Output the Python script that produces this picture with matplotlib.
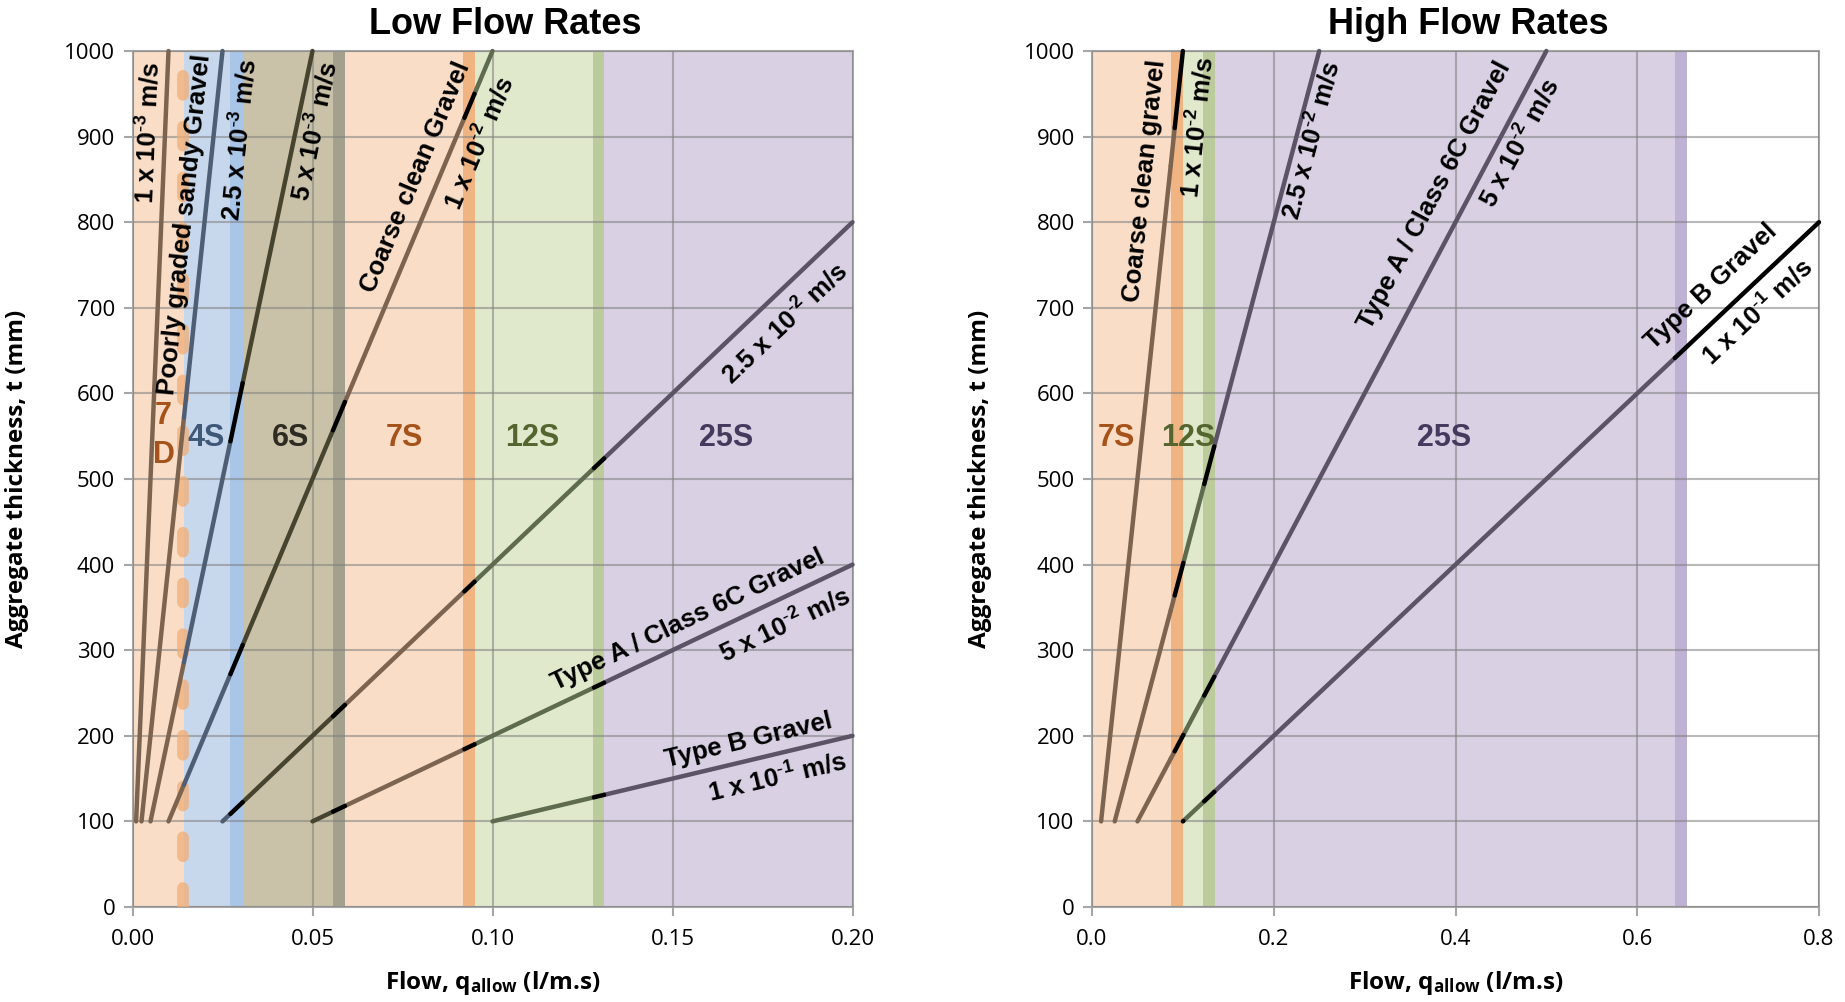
import numpy as np
import matplotlib.pyplot as plt
from matplotlib.ticker import FormatStrFormatter

plt.rcParams['mathtext.default'] = 'regular'

# ---------------- Low flow rates (left panel) ----------------
low_q_start = [0.001, 0.0025, 0.005, 0.01, 0.025, 0.05, 0.1]
low_t_start = [100, 100, 100, 100, 100, 100, 100]
low_q_end = [0.01, 0.025, 0.05, 0.1, 0.2, 0.2, 0.2]
low_t_end = [1000, 1000, 1000, 1000, 800, 400, 200]

low_zone_names = ['7D', '4S', '6S', '7S', '12S', '25S']
low_zone_lo = [0.0, 0.0143, 0.0306, 0.0590, 0.0951, 0.1311]
low_zone_hi = [0.0143, 0.0272, 0.0557, 0.0919, 0.1278, 0.2]
low_band_zone = ['4S', '6S', '7S', '12S']
low_band_lo = [0.0272, 0.0557, 0.0919, 0.1278]
low_band_hi = [0.0306, 0.0590, 0.0951, 0.1311]
low_black_lo = [0.0272, 0.0557, 0.0922, 0.1282]
low_black_hi = [0.0306, 0.0590, 0.0950, 0.1310]
low_dash_q = 0.0141

low_labels = ['1 x 10$^{\\text{-}3}$ m/s', 'Poorly graded sandy Gravel', '2.5 x 10$^{\\text{-}3}$ m/s',
              '5 x 10$^{\\text{-}3}$ m/s', 'Coarse clean Gravel', '1 x 10$^{\\text{-}2}$ m/s',
              '2.5 x 10$^{\\text{-}2}$ m/s', 'Type A / Class 6C Gravel', '5 x 10$^{\\text{-}2}$ m/s',
              'Type B Gravel', '1 x 10$^{\\text{-}1}$ m/s']
low_label_line = [0, 1, 1, 2, 3, 3, 4, 5, 5, 6, 6]
low_label_q = [0.0044, 0.0146, 0.0299, 0.0507, 0.0785, 0.0965, 0.1812, 0.1544, 0.1812, 0.171, 0.179]
low_label_t = [904, 797, 896, 906, 853, 892, 682, 335, 329, 194, 151]
low_zone_label_q = [0.0086, 0.0205, 0.0440, 0.0754, 0.1110, 0.1650]

# ---------------- High flow rates (right panel) ----------------
high_q_start = [0.01, 0.025, 0.05, 0.1]
high_t_start = [100, 100, 100, 100]
high_q_end = [0.1, 0.25, 0.5, 0.8]
high_t_end = [1000, 1000, 1000, 800]

high_zone_names = ['7S', '12S', '25S']
high_zone_lo = [0.0, 0.1005, 0.1353]
high_zone_hi = [0.0866, 0.1225, 0.6414]
high_band_zone = ['7S', '12S', '25S']
high_band_lo = [0.0866, 0.1225, 0.6414]
high_band_hi = [0.1005, 0.1353, 0.6549]
high_black_lo = [0.0910, 0.1235, 0.6414]
high_black_hi = [0.1005, 0.1345, 10.0]

high_labels = ['Coarse clean gravel', '1 x 10$^{\\text{-}2}$ m/s', '2.5 x 10$^{\\text{-}2}$ m/s',
               'Type A / Class 6C Gravel', '5 x 10$^{\\text{-}2}$ m/s',
               'Type B Gravel', '1 x 10$^{\\text{-}1}$ m/s']
high_label_line = [0, 0, 1, 2, 2, 3, 3]
high_label_q = [0.0583, 0.117, 0.2417, 0.377, 0.4708, 0.6817, 0.733]
high_label_t = [849, 911, 896, 832, 892, 725, 695]
high_zone_label_q = [0.0272, 0.106, 0.388]

zone_label_t = 548

# zone styling: fill, band, line colour, text colour
fill_col = {'7D': '#f9ddc6', '4S': '#c8d8ec', '6S': '#c9c2a8', '7S': '#f9ddc6',
            '12S': '#e0e9cc', '25S': '#d9d0e3'}
band_col = {'4S': '#a9c5e8', '6S': '#a3a08e', '7S': '#f0b482', '12S': '#bccb9c',
            '25S': '#bfb1d4'}
line_col = {'7D': '#7d6450', '4S': '#4e5e74', '6S': '#46442f', '7S': '#7d6450',
            '12S': '#5e6b4f', '25S': '#5c5367'}
text_col = {'7D': '#a5531a', '4S': '#3f5878', '6S': '#2d2b22', '7S': '#a5531a',
            '12S': '#55652f', '25S': '#46395e'}

LBL_FONT = 'Liberation Sans'
AX_FONT = 'Open Sans'

fig = plt.figure(figsize=(18.45, 10.02), dpi=100)
ax1 = fig.add_axes([132.5 / 1845, 95 / 1002, 720 / 1845, 856 / 1002])
ax2 = fig.add_axes([1092 / 1845, 95 / 1002, 727 / 1845, 856 / 1002])


def setup(ax, xmax, xstep, fmt, title, ylab_x):
    ax.set_xlim(0, xmax)
    ax.set_ylim(0, 1000)
    ax.set_xticks(np.arange(0, xmax + xstep / 2, xstep))
    ax.set_yticks(np.arange(0, 1001, 100))
    ax.xaxis.set_major_formatter(FormatStrFormatter(fmt))
    ax.grid(True, color='#7f7f7f', alpha=0.55, lw=1.5)
    ax.set_axisbelow(False)
    for s in ax.spines.values():
        s.set_color('#a6a6a6')
        s.set_linewidth(1.5)
    ax.tick_params(direction='out', length=6.5, width=1.5, color='#a6a6a6',
                   labelsize=16, pad=6)
    ax.tick_params(axis='x', pad=9)
    for lab in ax.get_xticklabels() + ax.get_yticklabels():
        lab.set_family(AX_FONT)
    ax.set_xlabel('Flow, q$_{allow}$ (l/m.s)', fontsize=17.5, fontweight='bold', family=AX_FONT)
    ax.set_ylabel('Aggregate thickness, t (mm)', fontsize=17.5, fontweight='bold', family=AX_FONT)
    ax.xaxis.set_label_coords(0.5, -0.072)
    ax.yaxis.set_label_coords(ylab_x, 0.5)
    ax.set_title(title, fontsize=26, fontweight='bold', family=LBL_FONT, x=0.518, pad=12)


def shade(ax, names, lo, hi, bnames, blo, bhi):
    for n, a, b in zip(names, lo, hi):
        ax.axvspan(a, b, color=fill_col[n], lw=0, zorder=0)
    for n, a, b in zip(bnames, blo, bhi):
        ax.axvspan(a, b, color=band_col[n], lw=0, zorder=0)


def colour_at(q, names, lo, hi, blo, bhi):
    for a, b in zip(blo, bhi):
        if a <= q <= b:
            return 'black'
    c = 'black'
    for n, a in zip(names, lo):
        if q >= a:
            c = line_col[n]
    return c


def draw_lines(ax, qs, ts, qe, te, names, lo, hi, blo, bhi):
    cuts = sorted(set(lo + hi + blo + bhi))
    for q0, t0, q1, t1 in zip(qs, ts, qe, te):
        pts = [q0] + [c for c in cuts if q0 < c < q1] + [q1]
        for qa, qb in zip(pts[:-1], pts[1:]):
            ta = t0 + (t1 - t0) * (qa - q0) / (q1 - q0)
            tb = t0 + (t1 - t0) * (qb - q0) / (q1 - q0)
            c = colour_at((qa + qb) / 2, names, lo, hi, blo, bhi)
            ax.plot([qa, qb], [ta, tb], color=c, lw=3.2, solid_capstyle='round',
                    zorder=5 if c == 'black' else 4, clip_on=False)


def line_labels(ax, labels, idx, lq, lt, qs, ts, qe, te):
    for s, i, q, t in zip(labels, idx, lq, lt):
        p0 = ax.transData.transform((qs[i], ts[i]))
        p1 = ax.transData.transform((qe[i], te[i]))
        ang = np.degrees(np.arctan2(p1[1] - p0[1], p1[0] - p0[0]))
        ax.text(q, t, s, rotation=ang, rotation_mode='anchor', ha='center', va='center',
                fontsize=18.5, fontweight='bold', family=LBL_FONT, color='black', zorder=6)


ZFS = 22

# ---- left panel ----
setup(ax1, 0.2, 0.05, '%.2f', 'Low Flow Rates', -0.1437)
shade(ax1, low_zone_names, low_zone_lo, low_zone_hi, low_band_zone, low_band_lo, low_band_hi)
ax1.plot([low_dash_q, low_dash_q], [0, 1000], color='#f0ae76', alpha=0.75, lw=8.5,
         dashes=(1.6, 2.7), dash_capstyle='round', zorder=3)
draw_lines(ax1, low_q_start, low_t_start, low_q_end, low_t_end,
           low_zone_names, low_zone_lo, low_zone_hi, low_black_lo, low_black_hi)
line_labels(ax1, low_labels, low_label_line, low_label_q, low_label_t,
            low_q_start, low_t_start, low_q_end, low_t_end)
for n, q in zip(low_zone_names, low_zone_label_q):
    if n == '7D':
        ax1.text(q, zone_label_t + 26, '7', ha='center', va='center', fontsize=ZFS,
                 fontweight='bold', family=LBL_FONT, color=text_col[n], zorder=6)
        ax1.text(q, zone_label_t - 20, 'D', ha='center', va='center', fontsize=ZFS,
                 fontweight='bold', family=LBL_FONT, color=text_col[n], zorder=6)
    else:
        ax1.text(q, zone_label_t, n, ha='center', va='center', fontsize=ZFS,
                 fontweight='bold', family=LBL_FONT, color=text_col[n], zorder=6)

# ---- right panel ----
setup(ax2, 0.8, 0.2, '%.1f', 'High Flow Rates', -0.1376)
shade(ax2, high_zone_names, high_zone_lo, high_zone_hi, high_band_zone, high_band_lo, high_band_hi)
draw_lines(ax2, high_q_start, high_t_start, high_q_end, high_t_end,
           high_zone_names, high_zone_lo, high_zone_hi, high_black_lo, high_black_hi)
line_labels(ax2, high_labels, high_label_line, high_label_q, high_label_t,
            high_q_start, high_t_start, high_q_end, high_t_end)
for n, q in zip(high_zone_names, high_zone_label_q):
    ax2.text(q, zone_label_t, n, ha='center', va='center', fontsize=ZFS,
             fontweight='bold', family=LBL_FONT, color=text_col[n], zorder=6)

fig.savefig('out.png', dpi=100)
